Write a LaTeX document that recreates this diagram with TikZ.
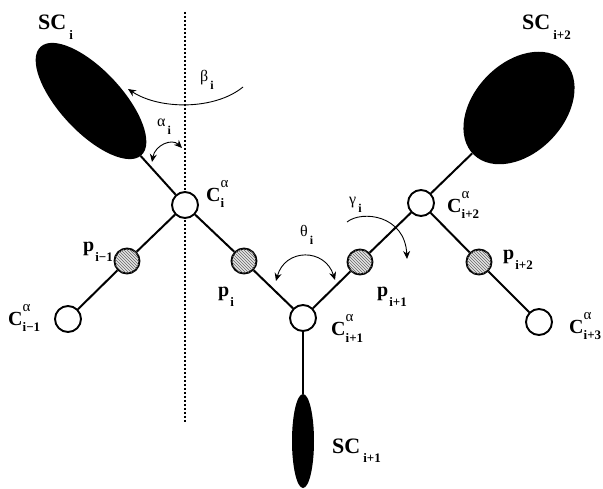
\documentclass[tikz,border=0pt]{standalone}
\usepackage{fontspec}
\setmainfont{Liberation Serif}
\usetikzlibrary{shapes.geometric,patterns,arrows.meta}

% residue labels: side chain, alpha carbon, peptide plane, angles
\newcommand{\sclab}[1]{\fontsize{22}{22}\selectfont\bfseries SC\kern3pt\raisebox{-0.45em}{\fontsize{13}{13}\selectfont #1}}
\newcommand{\calab}[1]{\fontsize{20}{20}\selectfont\bfseries C\rlap{\raisebox{0.7em}{\fontsize{15}{15}\selectfont\mdseries α}}\raisebox{-0.3em}{\fontsize{13}{13}\selectfont #1}}
\newcommand{\plab}[1]{\fontsize{20}{20}\selectfont\bfseries p\kern1pt\raisebox{-0.5em}{\fontsize{13}{13}\selectfont #1}}
\newcommand{\anglab}[2]{\fontsize{16}{16}\selectfont #1\kern2pt\raisebox{-0.5em}{\fontsize{12}{12}\selectfont\bfseries #2}}

\begin{document}
\begin{tikzpicture}[x=1pt,y=-1pt]
  \tikzstyle{calpha} = [circle, draw=black, line width=1.9pt, fill=white, minimum size=26pt, inner sep=0pt]
  \tikzstyle{pep} = [circle, draw=black, line width=1.9pt, fill=gray!20, minimum size=25pt, inner sep=0pt,
                     postaction={pattern=north west lines, pattern color=gray!80!black}]
  \tikzstyle{side} = [ellipse, fill=black, inner sep=0pt]
  \tikzstyle{bond} = [line width=2pt]
  \tikzstyle{angle} = [line width=0.9pt, >={Stealth[length=8pt,width=7pt]}]
  \tikzstyle{lab} = [anchor=base west, inner sep=0pt]

  \useasboundingbox (0,0) rectangle (603,489);

  % vertical axis through C_i
  \draw [line width=1.1pt, dash pattern=on 2pt off 2pt] (185,12) -- (185,423);

  % backbone
  \node (ca0) [calpha] at (68,319) {};
  \node (p0) [pep] at (127,261) {};
  \node (ca1) [calpha] at (185,205) {};
  \node (p1) [pep] at (244,261) {};
  \node (ca2) [calpha] at (303,318) {};
  \node (p2) [pep] at (360,262) {};
  \node (ca3) [calpha] at (421,203) {};
  \node (p3) [pep] at (479,262) {};
  \node (ca4) [calpha] at (539,322) {};

  % side chains
  \node (sc1) [side, minimum width=148pt, minimum height=62pt, rotate=-47] at (91,101) {};
  \node (sc2) [side, minimum width=22pt, minimum height=94pt] at (303,441) {};
  \node (sc3) [side, minimum width=130pt, minimum height=90pt, rotate=46] at (519,108) {};

  \foreach \a/\b in {ca0/p0, p0/ca1, ca1/p1, p1/ca2, ca2/p2, p2/ca3, ca3/p3, p3/ca4,
                     ca1/sc1, ca2/sc2, ca3/sc3}
    \draw [bond] (\a) -- (\b);

  % angles
  \draw [angle, ->] (243,87) .. controls (215,110) and (160,110) .. (128,89);
  \draw [angle, <->] (152,162) .. controls (155,145) and (172,138) .. (182,148);
  \draw [angle, <->] (276,281) .. controls (285,248) and (325,248) .. (335,280);
  \draw [angle, ->] (347,222) .. controls (362,210) and (405,215) .. (407,259);

  % labels
  \node (lsc1) [lab] at (38,30) {\sclab{i}};
  \node (lsc2) [lab] at (332,453) {\sclab{i+1}};
  \node (lsc3) [lab] at (522,30) {\sclab{i+2}};
  \node (lca0) [lab] at (8,326) {\calab{i−1}};
  \node (lca1) [lab] at (206,202) {\calab{i}};
  \node (lca2) [lab] at (331,336) {\calab{i+1}};
  \node (lca3) [lab] at (447,213) {\calab{i+2}};
  \node (lca4) [lab] at (569,334) {\calab{i+3}};
  \node (lp0) [lab] at (83,252) {\plab{i−1}};
  \node (lp1) [lab] at (218,297) {\plab{i}};
  \node (lp2) [lab] at (377,297) {\plab{i+1}};
  \node (lp3) [lab] at (503,260) {\plab{i+2}};
  \node (lbeta) [lab] at (200,82) {\anglab{β}{i}};
  \node (lalpha) [lab] at (157,127) {\anglab{α}{i}};
  \node (ltheta) [lab] at (300,237) {\anglab{θ}{i}};
  \node (lgamma) [lab] at (349,205) {\anglab{γ}{i}};
\end{tikzpicture}
\end{document}
